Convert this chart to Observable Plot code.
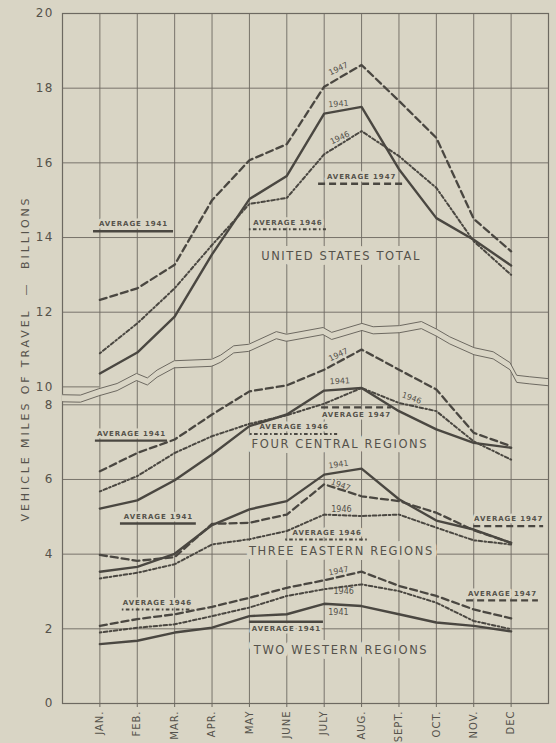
<!DOCTYPE html>
<html><head><meta charset="utf-8">
<script src="https://cdn.jsdelivr.net/npm/d3@7"></script>
<script src="https://cdn.jsdelivr.net/npm/@observablehq/plot@0.6"></script>
<style>
html,body{margin:0;padding:0;background:#d9d5c5;overflow:hidden;}
</style></head><body><div id="chart"></div>
<script>
// ---- data ----
const months = ["JAN.","FEB.","MAR.","APR.","MAY","JUNE","JULY","AUG.","SEPT.","OCT.","NOV.","DEC"];
const years = ["1941","1946","1947"];
const regions = ["UNITED STATES TOTAL","FOUR CENTRAL REGIONS","THREE EASTERN REGIONS","TWO WESTERN REGIONS"];
const yTickValues = [0,2,4,6,8,10,12,14,16,18,20];

const usTotal1941 = [10.36,10.92,11.88,13.55,15.03,15.65,17.32,17.50,15.83,14.52,13.94,13.25];
const usTotal1946 = [10.90,11.70,12.64,13.80,14.90,15.06,16.23,16.85,16.18,15.33,13.90,13.00];
const usTotal1947 = [12.33,12.64,13.27,15.00,16.07,16.50,18.04,18.62,17.66,16.67,14.50,13.63];

const central1941 = [5.22,5.44,5.98,6.67,7.43,7.74,8.38,8.45,7.83,7.34,6.98,6.85];
const central1946 = [5.68,6.09,6.71,7.16,7.49,7.72,8.03,8.45,8.05,7.83,7.02,6.53];
const central1947 = [6.22,6.71,7.07,7.74,8.36,8.52,8.94,9.48,8.94,8.41,7.25,6.89];

const eastern1941 = [3.53,3.66,4.01,4.78,5.20,5.42,6.13,6.29,5.47,4.90,4.66,4.30];
const eastern1946 = [3.35,3.50,3.73,4.26,4.40,4.62,5.06,5.02,5.06,4.71,4.37,4.26];
const eastern1947 = [3.98,3.82,3.92,4.81,4.84,5.06,5.87,5.55,5.42,5.11,4.64,4.30];

const western1941 = [1.59,1.68,1.90,2.03,2.34,2.39,2.67,2.61,2.39,2.17,2.08,1.93];
const western1946 = [1.90,2.03,2.12,2.34,2.57,2.88,3.06,3.19,3.01,2.70,2.21,1.99];
const western1947 = [2.08,2.26,2.39,2.59,2.83,3.10,3.30,3.53,3.15,2.88,2.52,2.28];

// averages: region, year, value, span in month units
const averageRegion = ["UNITED STATES TOTAL","UNITED STATES TOTAL","UNITED STATES TOTAL",
  "FOUR CENTRAL REGIONS","FOUR CENTRAL REGIONS","FOUR CENTRAL REGIONS",
  "THREE EASTERN REGIONS","THREE EASTERN REGIONS","THREE EASTERN REGIONS",
  "TWO WESTERN REGIONS","TWO WESTERN REGIONS","TWO WESTERN REGIONS"];
const averageYear = ["1941","1946","1947","1941","1946","1947","1941","1946","1947","1941","1946","1947"];
const averageValue = [14.17,14.22,15.44, 7.04,7.22,7.93, 4.82,4.39,4.75, 2.19,2.52,2.76];
const averageFrom = [0.83,5.00,6.85, 0.88,5.03,6.93, 1.55,5.97,11.00, 5.00,1.60,10.81];
const averageTo   = [2.97,7.06,9.15, 2.81,7.36,8.80, 3.58,8.19,12.87, 6.98,3.48,12.73];
const averageLabelBelow = [false,false,false, false,false,true, false,false,false, true,false,false];

// axis-break double line (upper-panel units)
const breakX = [0,0.48,0.97,1.46,1.98,2.27,2.53,2.99,3.99,4.23,4.58,4.98,5.72,5.99,6.97,7.2,8.01,8.31,9.01,9.6,10.0,10.36,11.01,11.52,11.97,12.15,12.5,13];
const breakV = [9.79,9.78,9.95,10.09,10.36,10.24,10.45,10.70,10.74,10.85,11.10,11.14,11.48,11.41,11.59,11.46,11.70,11.61,11.64,11.75,11.55,11.34,11.05,10.94,10.65,10.31,10.27,10.22];

// annotation anchors (data units)
const regionLabelX = [7.45,7.42,7.46,7.45];
const regionLabelV = [13.5,6.94,4.08,1.43];
const yearLabels = [
  {region:"UNITED STATES TOTAL", year:"1947", x:7.38, v:18.52, angle:-25},
  {region:"UNITED STATES TOTAL", year:"1941", x:7.38, v:17.58, angle:-5},
  {region:"UNITED STATES TOTAL", year:"1946", x:7.42, v:16.67, angle:-25},
  {region:"FOUR CENTRAL REGIONS", year:"1947", x:7.38, v:9.34, angle:-25},
  {region:"FOUR CENTRAL REGIONS", year:"1941", x:7.42, v:8.63, angle:-3},
  {region:"FOUR CENTRAL REGIONS", year:"1946", x:9.34, v:8.18, angle:20},
  {region:"THREE EASTERN REGIONS", year:"1941", x:7.38, v:6.40, angle:-8},
  {region:"THREE EASTERN REGIONS", year:"1947", x:7.44, v:5.85, angle:20},
  {region:"THREE EASTERN REGIONS", year:"1946", x:7.46, v:5.20, angle:0},
  {region:"TWO WESTERN REGIONS", year:"1947", x:7.38, v:3.55, angle:-12},
  {region:"TWO WESTERN REGIONS", year:"1946", x:7.52, v:2.99, angle:0},
  {region:"TWO WESTERN REGIONS", year:"1941", x:7.38, v:2.45, angle:0}
];
const axisTitle = "VEHICLE MILES OF TRAVEL  —  BILLIONS";

// ---- build tables ----
const SHIFT = 1.52; // upper panel (10–20) is drawn just above the lower panel (0–8)
const isUpper = r => r === "UNITED STATES TOTAL";
const vy = (v, upper) => upper ? v - SHIFT : v;
const series = {
  "UNITED STATES TOTAL": {"1941": usTotal1941, "1946": usTotal1946, "1947": usTotal1947},
  "FOUR CENTRAL REGIONS": {"1941": central1941, "1946": central1946, "1947": central1947},
  "THREE EASTERN REGIONS": {"1941": eastern1941, "1946": eastern1946, "1947": eastern1947},
  "TWO WESTERN REGIONS": {"1941": western1941, "1946": western1946, "1947": western1947}
};
const rows = [];
for (const r of regions) for (const yr of years) series[r][yr].forEach((v, i) => rows.push({region: r, year: yr, month: i + 1, value: v}));
const averages = averageRegion.map((r, i) => ({region: r, year: averageYear[i], value: averageValue[i], x1: averageFrom[i], x2: averageTo[i], below: averageLabelBelow[i]}));
const breakLine = breakX.map((x, i) => ({x, v: breakV[i]}));
const regionLabels = regions.map((r, i) => ({region: r, x: regionLabelX[i], v: regionLabelV[i]}));

const BG = "#d9d5c5", INK = "#4a4741", GRID = "#6d6961", TXT = "#55524b";
const dash = {"1941": null, "1946": "1.6,2.4,3.6,2.4", "1947": "7,4"};
const width = {"1941": 2.4, "1946": 2.0, "1947": 2.3};
const Y = d => vy(d.value, isUpper(d.region));
const yMax = 20 - SHIFT;
const avgLabelOpts = {x: d => (d.x1 + d.x2) / 2, y: Y, text: d => "AVERAGE " + d.year, fontSize: 7, fontWeight: "bold", fill: TXT, stroke: BG, strokeWidth: 5};

const marks = [
  Plot.ruleX(d3.range(1, 13), {x: d => d, y1: 0, y2: yMax, stroke: GRID, strokeWidth: 0.9}),
  Plot.ruleY(yTickValues.filter(t => t !== 10), {y: t => vy(t, t >= 10), stroke: GRID, strokeWidth: 0.9}),
  Plot.ruleY([10], {y: t => vy(t, true), x1: 0, x2: 1, stroke: GRID, strokeWidth: 0.9}),
  Plot.frame({stroke: GRID, strokeWidth: 1.2}),
  // axis break double line
  Plot.areaY(breakLine, {x: "x", y1: d => vy(d.v, true), y2: d => vy(d.v, true) - 0.19, fill: BG}),
  Plot.line(breakLine, {x: "x", y: d => vy(d.v, true), stroke: GRID, strokeWidth: 1}),
  Plot.line(breakLine, {x: "x", y: d => vy(d.v, true) - 0.19, stroke: GRID, strokeWidth: 1}),
  Plot.axisX({ticks: d3.range(1, 13), tickFormat: d => months[d - 1], tickRotate: -90, tickSize: 4, tickPadding: 3, fontSize: 10, stroke: GRID, fill: TXT}),
  Plot.axisY({ticks: yTickValues.map(t => vy(t, t >= 10)), tickFormat: d => String(Math.round(d > 8.2 ? d + SHIFT : d)), tickSize: 0, tickPadding: 9, fontSize: 12, fill: TXT}),
  Plot.text([axisTitle], {frameAnchor: "left", textAnchor: "middle", dx: -37, rotate: -90, fontSize: 11, fill: TXT}),
  Plot.text(regionLabels, {x: "x", y: d => vy(d.v, isUpper(d.region)), text: "region", fontSize: 11.5, fill: TXT, stroke: BG, strokeWidth: 10}),
  Plot.text(averages.filter(d => !d.below), {...avgLabelOpts, dy: -7}),
  Plot.text(averages.filter(d => d.below), {...avgLabelOpts, dy: 7}),
  Plot.text(yearLabels, {x: "x", y: d => vy(d.v, isUpper(d.region)), text: "year", rotate: "angle", fontSize: 8, fill: TXT, stroke: BG, strokeWidth: 2.5})
];
for (const yr of years) {
  marks.push(Plot.ruleY(averages.filter(d => d.year === yr), {y: Y, x1: "x1", x2: "x2", stroke: INK, strokeWidth: width[yr], strokeDasharray: dash[yr]}));
  marks.push(Plot.line(rows.filter(d => d.year === yr), {x: "month", y: Y, z: "region", stroke: INK, strokeWidth: width[yr], strokeDasharray: dash[yr], strokeLinejoin: "round"}));
}

const chart = Plot.plot({
  width: 556, height: 743,
  marginLeft: 62, marginRight: 8, marginTop: 13, marginBottom: 40,
  style: {background: BG, fontFamily: "DejaVu Sans", color: TXT},
  x: {domain: [0, 13], axis: null},
  y: {domain: [0, yMax], axis: null},
  marks
});
document.getElementById("chart").append(chart);

// letter spacing to mimic the lettering-guide text of the original
const tickLabelSet = new Set(yTickValues.map(String));
d3.select(chart).selectAll("text").each(function() {
  const t = this.textContent;
  let ls = null;
  if (t === axisTitle) ls = "2.9px";
  else if (regions.includes(t)) ls = "1.6px";
  else if (t.startsWith("AVERAGE")) ls = "0.9px";
  else if (months.includes(t)) ls = "1px";
  else if (tickLabelSet.has(t)) ls = "1.2px";
  if (ls) this.style.letterSpacing = ls;
});
</script></body></html>
